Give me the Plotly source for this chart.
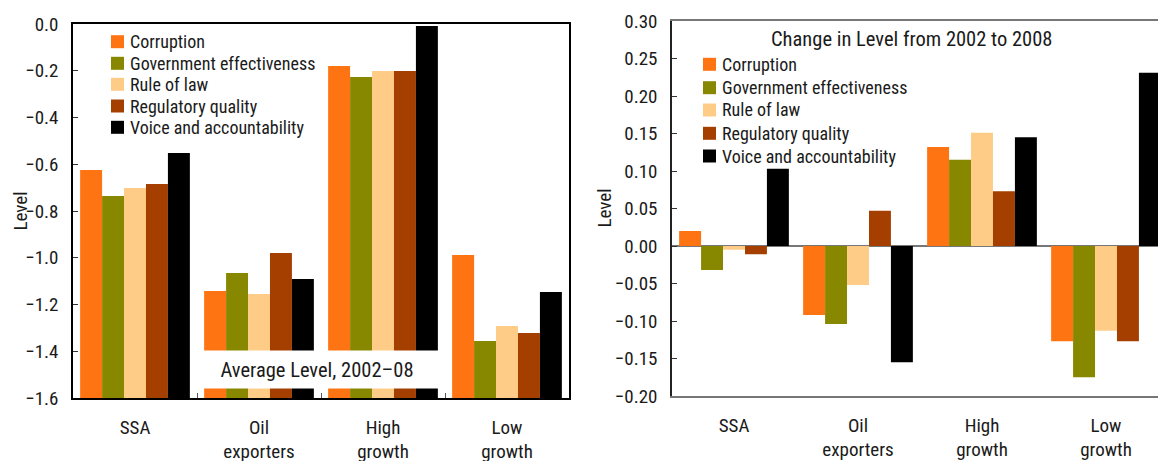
import plotly.graph_objects as go

# ---- data -------------------------------------------------------------
categories = ["SSA", "Oil<br>exporters", "High<br>growth", "Low<br>growth"]
indicators = [
    "Corruption",
    "Government effectiveness",
    "Rule of law",
    "Regulatory quality",
    "Voice and accountability",
]
colors = ["#FF7412", "#888800", "#FFCC88", "#A53F00", "#000000"]

# Average level, 2002-08
corruption_avg = [-0.625, -1.142, -0.180, -0.988]
gov_eff_avg = [-0.736, -1.065, -0.227, -1.356]
rule_of_law_avg = [-0.702, -1.155, -0.201, -1.292]
regulatory_avg = [-0.684, -0.980, -0.201, -1.322]
voice_avg = [-0.552, -1.091, -0.009, -1.147]

# Change in level from 2002 to 2008
corruption_chg = [0.020, -0.092, 0.132, -0.127]
gov_eff_chg = [-0.032, -0.104, 0.115, -0.175]
rule_of_law_chg = [-0.005, -0.052, 0.151, -0.113]
regulatory_chg = [-0.011, 0.047, 0.073, -0.127]
voice_chg = [0.103, -0.155, 0.145, 0.231]

avg_series = [corruption_avg, gov_eff_avg, rule_of_law_avg, regulatory_avg, voice_avg]
chg_series = [corruption_chg, gov_eff_chg, rule_of_law_chg, regulatory_chg, voice_chg]

left_floor = -1.6  # bars of the left panel rise from the bottom of the axis

# ---- layout helpers ---------------------------------------------------
W, H = 1158, 461
FONT = "Liberation Sans Narrow, Arial Narrow, Roboto Condensed, sans-serif"
TXT = "#1a1a1a"


def px(x):
    return x / W


def py(y):
    return 1 - y / H


fig = go.Figure()

for name, vals, col in zip(indicators, avg_series, colors):
    fig.add_trace(go.Bar(
        x=categories, y=[v - left_floor for v in vals], base=left_floor,
        name=name, marker=dict(color=col, line=dict(width=0)),
        xaxis="x", yaxis="y", showlegend=False,
    ))

for name, vals, col in zip(indicators, chg_series, colors):
    fig.add_trace(go.Bar(
        x=categories, y=vals, name=name,
        marker=dict(color=col, line=dict(width=0)),
        xaxis="x2", yaxis="y2", showlegend=False,
    ))

tick_font = dict(family=FONT, size=19, color=TXT)

left_x0, left_x1 = 73, 569
right_x0 = 672
cat_w = (left_x1 - left_x0) / 4
right_hi = -0.5 + (W - right_x0) / cat_w

y2_dom = [py(396), py(21)]
zero_pos = y2_dom[0] + (0 - (-0.20)) / (0.30 - (-0.20)) * (y2_dom[1] - y2_dom[0])

fig.update_layout(
    width=W, height=H,
    margin=dict(l=0, r=0, t=0, b=0, autoexpand=False),
    paper_bgcolor="white", plot_bgcolor="white",
    barmode="group", bargap=0.115, bargroupgap=0,
    font=dict(family=FONT, color=TXT),
    xaxis=dict(
        domain=[px(left_x0), px(left_x1)], anchor="y", automargin=False,
        type="category", range=[-0.5, 3.5],
        showline=True, linecolor="#000", linewidth=1.5, mirror=True,
        ticks="inside", tickson="boundaries", ticklen=5, tickcolor="#555",
        tickfont=tick_font, ticklabelstandoff=11, showgrid=False,
    ),
    yaxis=dict(
        domain=[py(398), py(24)], anchor="x", automargin=False,
        range=[-1.6, 0.0], dtick=0.2, tickformat=".1f",
        showline=True, linecolor="#000", linewidth=1.5, mirror=True,
        ticks="inside", ticklen=5, tickcolor="#333",
        tickfont=tick_font, ticklabelstandoff=9, showgrid=False, zeroline=False,
    ),
    xaxis2=dict(
        domain=[px(right_x0), 1.0], anchor="y2", automargin=False,
        type="category", range=[-0.5, right_hi],
        showline=True, linecolor="#777", linewidth=1.5, mirror=True,
        ticks="", tickfont=tick_font, ticklabelstandoff=11, showgrid=False,
    ),
    xaxis3=dict(
        overlaying="x2", anchor="free", position=zero_pos, side="bottom",
        type="linear", range=[-0.5, right_hi], automargin=False,
        tickmode="array", tickvals=[-0.5, 0.5, 1.5, 2.5, 3.5],
        ticks="inside", ticklen=5, tickcolor="#555",
        showticklabels=False, showline=False, showgrid=False, zeroline=False,
    ),
    yaxis2=dict(
        domain=y2_dom, anchor="x2", automargin=False,
        range=[-0.20, 0.30], dtick=0.05, tickformat=".2f",
        showline=True, linecolor="#222", linewidth=1.5,
        ticks="inside", ticklen=5, tickcolor="#333",
        tickfont=tick_font, ticklabelstandoff=9, showgrid=False,
        zeroline=True, zerolinecolor="#777", zerolinewidth=1.5,
    ),
)

# y-axis titles
for x_c, y_c in [(20, 211.5), (604, 208.5)]:
    fig.add_annotation(
        xref="paper", yref="paper", x=px(x_c), y=py(y_c),
        xanchor="center", yanchor="middle", textangle=-90,
        text="Level", showarrow=False,
        font=dict(family=FONT, size=19, color=TXT),
    )

# panel titles
fig.add_annotation(
    xref="paper", yref="paper", x=px(317), y=py(369.5),
    xanchor="center", yanchor="middle",
    text="Average Level, 2002\u201308", showarrow=False,
    font=dict(family=FONT, size=20.5, color=TXT),
    bgcolor="white", width=240, height=25, borderpad=6,
)
fig.add_annotation(
    xref="paper", yref="paper", x=px(911), y=py(39),
    xanchor="center", yanchor="middle",
    text="Change in Level from 2002 to 2008", showarrow=False,
    font=dict(family=FONT, size=20.5, color=TXT),
)

# legend keys for both panels
left_rows = [41.7, 63.3, 84.3, 106.0, 127.3]
right_rows = [64.3, 87.7, 110.0, 133.3, 156.0]
for (sq_x, txt_x, rows) in [(111, 129, left_rows), (703, 721, right_rows)]:
    for name, col, yc in zip(indicators, colors, rows):
        fig.add_shape(
            type="rect", xref="paper", yref="paper",
            x0=px(sq_x), x1=px(sq_x + 13), y0=py(yc + 6.5), y1=py(yc - 6.5),
            fillcolor=col, line=dict(width=0),
        )
        fig.add_annotation(
            xref="paper", yref="paper", x=px(txt_x), y=py(yc),
            xanchor="left", yanchor="middle", text=name, showarrow=False,
            font=dict(family=FONT, size=18, color=TXT), borderpad=0,
        )

fig.write_html("out.html")
